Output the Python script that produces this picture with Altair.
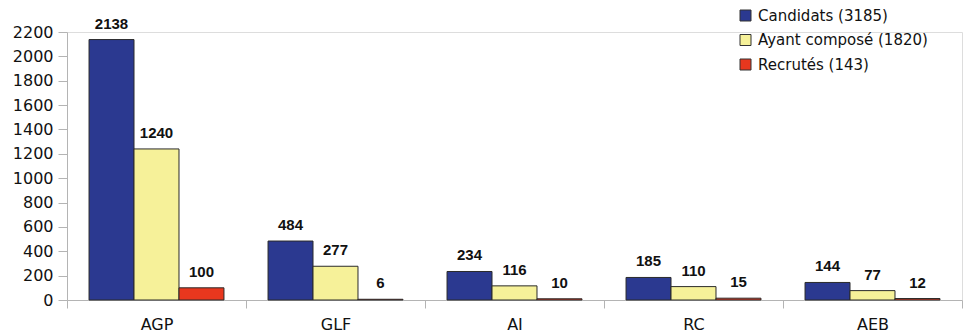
import altair as alt
import pandas as pd

categories = ["AGP", "GLF", "AI", "RC", "AEB"]
series = ["Candidats (3185)", "Ayant composé (1820)", "Recrutés (143)"]
candidats = [2138, 484, 234, 185, 144]
ayant_compose = [1240, 277, 116, 110, 77]
recrutes = [100, 6, 10, 15, 12]
y_ticks = [0, 200, 400, 600, 800, 1000, 1200, 1400, 1600, 1800, 2000, 2200]
colors = ["#2b3990", "#f6f199", "#e8371e"]

rows = []
for s, vals in zip(series, [candidats, ayant_compose, recrutes]):
    for c, v in zip(categories, vals):
        rows.append({"cat": c, "serie": s, "value": v})
df = pd.DataFrame(rows)

FONT = "DejaVu Sans"
VFONT = "Liberation Sans"

x = alt.X(
    "cat:N",
    sort=categories,
    scale=alt.Scale(paddingInner=0, paddingOuter=0),
    axis=alt.Axis(
        title=None, labelAngle=0, tickBand="extent", tickSize=8,
        labelPadding=8, labelFontSize=16, labelColor="#111",
        domainColor="#b4b4b4", tickColor="#b4b4b4", labelFont=FONT,
    ),
)
xoff = alt.XOffset("serie:N", sort=series,
                   scale=alt.Scale(paddingOuter=0.49, paddingInner=0))
y = alt.Y(
    "value:Q",
    scale=alt.Scale(domain=[0, 2200], nice=False),
    axis=alt.Axis(
        title=None, values=y_ticks, format="d", grid=False, tickSize=9,
        labelPadding=5, labelFontSize=16, labelColor="#111",
        domainColor="#b4b4b4", tickColor="#b4b4b4", labelFont=FONT,
    ),
)

bars = alt.Chart(df).mark_bar(stroke="#2a2a2a", strokeWidth=1).encode(
    x=x,
    xOffset=xoff,
    y=y,
    color=alt.Color(
        "serie:N",
        sort=series,
        scale=alt.Scale(domain=series, range=colors),
        legend=alt.Legend(
            title=None, orient="none", legendX=671, legendY=-24,
            symbolType="square", symbolSize=121, symbolStrokeColor="#333",
            symbolStrokeWidth=1, labelFontSize=15, labelFont=FONT,
            labelColor="#111", rowPadding=8.5, labelOffset=5, labelLimit=400,
        ),
    ),
)

labels = alt.Chart(df).mark_text(
    baseline="bottom", dy=-8, fontSize=15, fontWeight="bold", font=VFONT,
    color="#111",
).encode(x=x, xOffset=xoff, y=y, text="value:Q")

chart = (
    alt.layer(bars, labels)
    .properties(
        width=895, height=268,
        autosize=alt.AutoSizeParams(type="none"),
        padding={"left": 67, "top": 32, "right": 12, "bottom": 35},
    )
    .configure_view(stroke=None)
    .configure(background="white")
)

chart.save("out.html", embed_options={"renderer": "svg", "actions": False})
